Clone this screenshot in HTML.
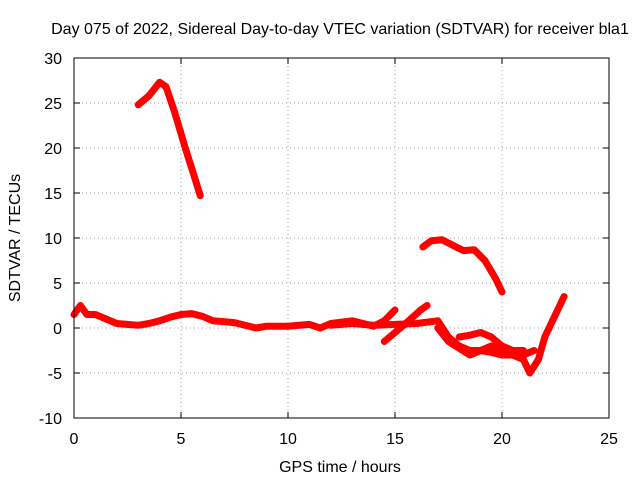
<!DOCTYPE html>
<html><head><meta charset="utf-8"><style>
body{margin:0;background:#fff;}
svg{display:block;font-family:"Liberation Sans",sans-serif;font-size:16px;}
</style></head><body>
<svg id="chart" width="640" height="480">
<text x="340" y="34" text-anchor="middle">Day 075 of 2022, Sidereal Day-to-day VTEC variation (SDTVAR) for receiver bla1</text>
<text x="340" y="472" text-anchor="middle">GPS time / hours</text>
<text transform="translate(20,238) rotate(-90)" text-anchor="middle">SDTVAR / TECUs</text>
<g id="grid"></g><g id="ticks"></g><g id="series"></g>
<rect x="74" y="58" width="535" height="360" fill="none" stroke="#000"/>
</svg>
<script>
const xTicks=[0,5,10,15,20,25];
const yTicks=[-10,-5,0,5,10,15,20,25,30];
const trackA_x=[3.0,3.5,4.0,4.3,4.7,5.2,5.6,5.9];
const trackA_y=[24.8,25.8,27.3,26.8,24,20,17,14.7];
const trackB_x=[16.3,16.7,17.2,17.7,18.2,18.7,19.2,19.7,20.0];
const trackB_y=[9,9.7,9.8,9.2,8.6,8.7,7.5,5.5,4];
const trackC_x=[0,0.3,0.6,1,1.5,2,3,3.5,4,4.5,5,5.5,6,6.5,7.5,8.5,9,10,11,11.5,12,13,14,14.5,15];
const trackC_y=[1.5,2.5,1.5,1.5,1,0.5,0.3,0.5,0.8,1.2,1.5,1.6,1.3,0.8,0.6,0,0.2,0.2,0.4,0,0.5,0.8,0.2,0.8,2];
const trackD_x=[12,13,14,15,16,17,17.5,18,18.5,19,19.5,20,20.5,21,21.3,21.7,22,22.5,22.9];
const trackD_y=[0.3,0.5,0.3,0.4,0.5,0.8,-1,-2,-2.5,-2.5,-2.7,-3,-3,-3.5,-5,-3.5,-1,1.5,3.5];
const trackE_x=[14.5,15.5,16.2,16.5];
const trackE_y=[-1.5,0.5,2,2.5];
const trackF_x=[17,17.5,18.5,19.5,20.5,21,21.5];
const trackF_y=[0,-1.5,-3,-2,-2.8,-3,-2.5];
const trackG_x=[18,18.5,19,19.5,20,20.5,21];
const trackG_y=[-1,-0.8,-0.5,-1,-2,-2.5,-2.5];
const NS='http://www.w3.org/2000/svg';
const sx=v=>74+v*535/25, sy=v=>418-(v+10)*9;
const grid=document.getElementById('grid'),ticks=document.getElementById('ticks'),ser=document.getElementById('series');
function mk(t,a,p){const e=document.createElementNS(NS,t);for(const k in a)e.setAttribute(k,a[k]);p.appendChild(e);return e;}
xTicks.forEach(v=>{const x=sx(v);
 if(v>0&&v<25){const g=mk('line',{x1:x,x2:x,y1:58,y2:418,stroke:'#a0a0a0','stroke-dasharray':'1,3'},grid);}
 mk('line',{x1:x,x2:x,y1:418,y2:412,stroke:'#000'},ticks);mk('line',{x1:x,x2:x,y1:58,y2:64,stroke:'#000'},ticks);
 const t=mk('text',{x:x,y:444,'text-anchor':'middle'},ticks);t.textContent=v;
 });
yTicks.forEach(v=>{const y=sy(v);
 if(v>-10&&v<30){const g=mk('line',{x1:74,x2:609,y1:y,y2:y,stroke:'#a0a0a0','stroke-dasharray':'1,3'},grid);}
 mk('line',{x1:74,x2:80,y1:y,y2:y,stroke:'#000'},ticks);mk('line',{x1:609,x2:603,y1:y,y2:y,stroke:'#000'},ticks);
 const t=mk('text',{x:62,y:y+6,'text-anchor':'end'},ticks);t.textContent=v;
 });
const tracks=[[trackA_x,trackA_y],[trackB_x,trackB_y],[trackC_x,trackC_y],[trackD_x,trackD_y],[trackE_x,trackE_y],[trackF_x,trackF_y],[trackG_x,trackG_y]];
tracks.forEach(([xs,ys])=>{
 const pts=xs.map((x,i)=>sx(x)+','+sy(ys[i])).join(' ');
 const p=mk('polyline',{points:pts,fill:'none',stroke:'#f00','stroke-width':7,'stroke-linejoin':'round','stroke-linecap':'round'},ser);
 
 
});
</script>
</body></html>
